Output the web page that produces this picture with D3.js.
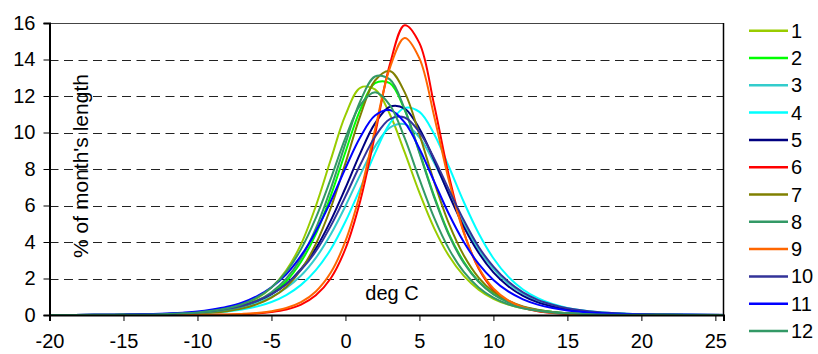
<!DOCTYPE html>
<html>
<head>
<meta charset="utf-8">
<script src="https://cdn.jsdelivr.net/npm/d3@7/dist/d3.min.js"></script>
<style>
  html, body { margin: 0; padding: 0; background: #ffffff; }
  svg { display: block; }
  text { font-family: Arial, "Liberation Sans", sans-serif; fill: #000; }
</style>
</head>
<body>
<svg id="chart" width="818" height="354"></svg>
<script>
// ---- data ----
const temps = [-20,-17,-15,-13,-11,-10,-9,-8,-7,-6,-5,-4,-3,-2,-1,0,1,2,3,4,5,6,7,8,9,10,11,12,13,14,15,17,19,21,25.5];

const month1  = [0.00,0.00,0.01,0.02,0.06,0.11,0.18,0.31,0.53,0.89,1.50,2.45,3.88,5.97,8.49,10.95,12.45,12.36,11.00,8.92,6.70,4.75,3.23,2.14,1.39,0.89,0.57,0.37,0.23,0.14,0.09,0.04,0.01,0.01,0.00];
const month2  = [0.00,0.00,0.01,0.02,0.06,0.10,0.17,0.27,0.44,0.72,1.16,1.85,2.92,4.43,6.51,8.93,11.24,12.70,12.70,11.24,8.93,6.51,4.43,2.92,1.85,1.16,0.72,0.44,0.27,0.17,0.10,0.04,0.01,0.01,0.00];
const month3  = [0.00,0.01,0.02,0.03,0.08,0.12,0.19,0.30,0.44,0.66,0.99,1.48,2.16,3.13,4.41,5.97,7.68,9.24,10.27,10.46,9.73,8.34,6.65,5.01,3.59,2.53,1.73,1.17,0.77,0.51,0.34,0.15,0.06,0.03,0.00];
const month4  = [0.00,0.00,0.01,0.02,0.05,0.08,0.12,0.19,0.30,0.46,0.71,1.09,1.65,2.46,3.59,5.12,6.94,8.87,10.50,11.35,11.13,9.91,8.11,6.19,4.48,3.11,2.10,1.40,0.92,0.60,0.39,0.16,0.07,0.03,0.00];
const month5  = [0.00,0.01,0.02,0.04,0.09,0.14,0.21,0.33,0.49,0.76,1.14,1.70,2.53,3.65,5.16,6.96,8.86,10.50,11.41,11.31,10.21,8.48,6.58,4.83,3.41,2.34,1.58,1.05,0.69,0.46,0.30,0.12,0.05,0.02,0.00];
const month6  = [0.00,0.00,0.00,0.00,0.00,0.01,0.01,0.02,0.04,0.08,0.16,0.30,0.57,1.08,2.00,3.63,6.25,9.89,13.72,15.88,14.90,11.49,7.60,4.55,2.55,1.38,0.74,0.39,0.20,0.11,0.06,0.02,0.00,0.00,0.00];
const month7  = [0.00,0.00,0.01,0.02,0.05,0.08,0.13,0.21,0.35,0.58,0.95,1.54,2.48,3.89,5.85,8.32,10.91,12.85,13.37,12.21,9.89,7.29,4.99,3.26,2.05,1.27,0.78,0.47,0.29,0.17,0.10,0.04,0.01,0.01,0.00];
const month8  = [0.00,0.00,0.01,0.02,0.07,0.11,0.18,0.29,0.47,0.77,1.25,1.99,3.11,4.74,6.90,9.39,11.71,13.07,12.91,11.29,8.88,6.43,4.36,2.85,1.82,1.13,0.70,0.43,0.26,0.16,0.10,0.04,0.01,0.01,0.00];
const month9  = [0.00,0.00,0.00,0.00,0.01,0.01,0.02,0.03,0.06,0.11,0.21,0.38,0.70,1.29,2.31,4.05,6.69,10.16,13.53,15.18,14.06,10.88,7.34,4.50,2.60,1.45,0.80,0.43,0.23,0.13,0.07,0.02,0.01,0.00,0.00];
const month10 = [0.00,0.01,0.02,0.04,0.10,0.15,0.23,0.35,0.51,0.77,1.14,1.69,2.47,3.49,4.87,6.50,8.23,9.77,10.73,10.82,10.02,8.57,6.85,5.19,3.74,2.65,1.83,1.24,0.83,0.56,0.37,0.16,0.07,0.03,0.01];
const month11 = [0.00,0.01,0.02,0.05,0.13,0.19,0.30,0.45,0.67,1.02,1.52,2.23,3.25,4.58,6.22,8.04,9.74,10.93,11.23,10.55,9.11,7.31,5.52,4.00,2.80,1.92,1.29,0.86,0.57,0.38,0.25,0.11,0.05,0.02,0.00];
const month12 = [0.00,0.01,0.01,0.03,0.09,0.14,0.23,0.37,0.59,0.95,1.51,2.36,3.61,5.32,7.44,9.70,11.50,12.20,11.50,9.70,7.44,5.32,3.61,2.36,1.51,0.95,0.59,0.37,0.23,0.14,0.09,0.03,0.01,0.01,0.00];

const seriesNames = ["1","2","3","4","5","6","7","8","9","10","11","12"];
const seriesValues = [month1,month2,month3,month4,month5,month6,month7,month8,month9,month10,month11,month12];
const seriesColors = ["#99CC00","#00FF00","#33CCCC","#00FFFF","#000080","#FF0000","#808000","#339966","#FF6600","#333399","#0000FF","#339966"];

const yTickValues = [0,2,4,6,8,10,12,14,16];
const xTickValues = [-20,-15,-10,-5,0,5,10,15,20,25];
const yTitle = "% of month's length";
const xTitle = "deg C";

// ---- layout ----
const svg = d3.select("#chart");
const pL = 49.5, pR = 723.5, pT = 23, pB = 315;

const x = d3.scaleLinear().domain([-20, 25.55]).range([pL, pR]);
const y = d3.scaleLinear().domain([0, 16]).range([pB, pT]);
const fmt = d => String(d);

// gridlines
svg.append("g").selectAll("line")
  .data(yTickValues.filter(v => v > 0 && v < 16))
  .join("line")
  .attr("x1", pL).attr("x2", pR)
  .attr("y1", d => Math.round(y(d)) + 0.5).attr("y2", d => Math.round(y(d)) + 0.5)
  .attr("stroke", "#222")
  .attr("stroke-width", 1)
  .attr("stroke-dasharray", "9,5.5");

// plot frame (top/right)
svg.append("line").attr("x1", pL).attr("x2", pR).attr("y1", pT + 0.5).attr("y2", pT + 0.5)
  .attr("stroke", "#444").attr("stroke-width", 1);
svg.append("line").attr("x1", pR).attr("x2", pR).attr("y1", pT).attr("y2", pB)
  .attr("stroke", "#000").attr("stroke-width", 1.5);

// clip
svg.append("defs").append("clipPath").attr("id", "plotclip")
  .append("rect").attr("x", pL).attr("y", pT - 2).attr("width", pR - pL).attr("height", pB - pT + 2);

const line = d3.line()
  .x((d, i) => x(temps[i]))
  .y(d => y(d))
  .curve(d3.curveCatmullRom.alpha(0.5));

svg.append("g").attr("clip-path", "url(#plotclip)")
  .selectAll("path")
  .data(seriesValues)
  .join("path")
  .attr("d", d => line(d))
  .attr("fill", "none")
  .attr("stroke", (d, i) => seriesColors[i])
  .attr("stroke-width", 2)
  .attr("stroke-linejoin", "round");

// axes
const yAxis = d3.axisLeft(y).tickValues(yTickValues).tickSize(6).tickPadding(8).tickFormat(fmt);
const gy = svg.append("g").attr("transform", `translate(${pL},0)`).call(yAxis);
gy.select(".domain").attr("stroke", "#000").attr("stroke-width", 2);
gy.selectAll(".tick line").attr("stroke", "#000");
gy.selectAll(".tick text").attr("font-size", 20).attr("font-family", "Arial, 'Liberation Sans', sans-serif");

const xAxis = d3.axisBottom(x).tickValues(xTickValues).tickSize(6).tickPadding(13).tickFormat(fmt);
const gx = svg.append("g").attr("transform", `translate(0,${pB})`).call(xAxis);
gx.select(".domain").attr("stroke", "#000").attr("stroke-width", 2);
gx.selectAll(".tick line").attr("stroke", "#000");
gx.selectAll(".tick text").attr("font-size", 20).attr("font-family", "Arial, 'Liberation Sans', sans-serif");

// titles
svg.append("text")
  .attr("transform", "translate(88,166) rotate(-90)")
  .attr("text-anchor", "middle")
  .attr("font-size", 21)
  .text(yTitle);

svg.append("text")
  .attr("x", 392).attr("y", 300)
  .attr("text-anchor", "middle")
  .attr("font-size", 20)
  .text(xTitle);

// legend
const lg = svg.append("g");
const legendTop = 30.7, legendStep = 27.3;
seriesNames.forEach((name, i) => {
  const ly = legendTop + i * legendStep;
  lg.append("line").attr("x1", 749).attr("x2", 788).attr("y1", ly).attr("y2", ly)
    .attr("stroke", seriesColors[i]).attr("stroke-width", 2.5);
  lg.append("text").attr("x", 791).attr("y", ly + 7).attr("font-size", 20).text(name);
});
</script>
</body>
</html>
